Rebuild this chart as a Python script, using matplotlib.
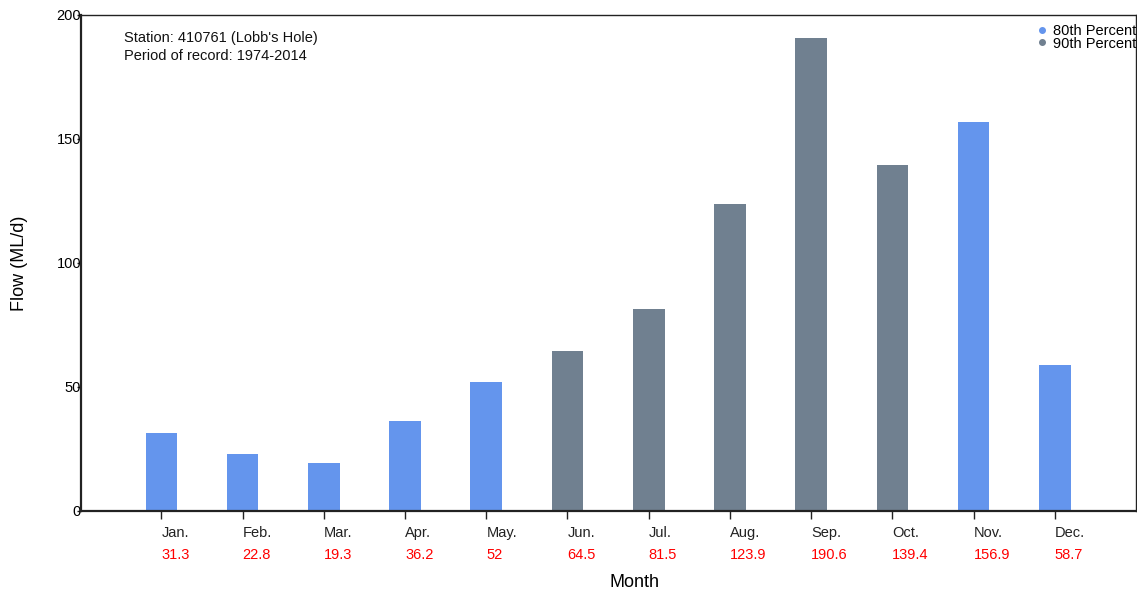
import matplotlib
matplotlib.use("Agg")
import matplotlib.pyplot as plt
from matplotlib.lines import Line2D
import matplotlib.transforms as mtransforms

months = ["Jan.", "Feb.", "Mar.", "Apr.", "May.", "Jun.", "Jul.", "Aug.", "Sep.", "Oct.", "Nov.", "Dec."]
flows = [31.3, 22.8, 19.3, 36.2, 52, 64.5, 81.5, 123.9, 190.6, 139.4, 156.9, 58.7]
value_labels = ["31.3", "22.8", "19.3", "36.2", "52", "64.5", "81.5", "123.9", "190.6", "139.4", "156.9", "58.7"]
percentile = ["80th", "80th", "80th", "80th", "80th", "90th", "90th", "90th", "90th", "90th", "80th", "80th"]
legend_labels = ["80th Percent", "90th Percent"]
yticks = [0, 50, 100, 150, 200]

colors = {"80th": "#6495ED", "90th": "#708090"}

plt.rcParams['font.family'] = ['Liberation Sans', 'DejaVu Sans']

fig = plt.figure(figsize=(11.37, 5.93), dpi=100)
ax = fig.add_axes([81/1137, 82/593, 1055/1137, 496/593])

x = list(range(len(months)))
ax.bar(x, flows, width=0.39, color=[colors[p] for p in percentile])

ax.set_xlim(-0.99, 12.0)
ax.set_ylim(0, 200)
ax.set_yticks(yticks)
ax.set_yticklabels([str(v) for v in yticks], fontsize=10.5)
ax.set_xticks(x)
ax.set_xticklabels([])
ax.tick_params(axis='x', direction='out', length=6, width=1, color='#222222')
ax.tick_params(axis='y', direction='out', length=3, width=1, pad=-3, color='#222222')

for s in ax.spines.values():
    s.set_linewidth(1.0)
    s.set_color('#222222')
ax.spines['left'].set_linewidth(1.6)
ax.spines['bottom'].set_linewidth(1.6)

trans = mtransforms.blended_transform_factory(ax.transData, ax.transAxes)
for xi, m, v in zip(x, months, value_labels):
    ax.text(xi, -0.045, m, transform=trans, ha='left', va='center', fontsize=10.5, color='#222222')
    ax.text(xi, -0.089, v, transform=trans, ha='left', va='center', fontsize=10.5, color='red')

ax.set_xlabel("Month", fontsize=13, labelpad=0)
ax.xaxis.set_label_coords(0.525, -0.128)
ax.set_ylabel("Flow (ML/d)", fontsize=13)
ax.yaxis.set_label_coords(-0.05, 0.5)

ax.text(124/1137, 1 - 38/593, "Station: 410761 (Lobb's Hole)", transform=fig.transFigure,
        ha='left', va='center', fontsize=10.5, color='#111111')
ax.text(124/1137, 1 - 56/593, "Period of record: 1974-2014", transform=fig.transFigure,
        ha='left', va='center', fontsize=10.5, color='#111111')

handles = [Line2D([0], [0], marker='o', linestyle='', markersize=4, color=colors["80th"]),
           Line2D([0], [0], marker='o', linestyle='', markersize=4, color=colors["90th"])]
fig.legend(handles, legend_labels, loc='upper left', bbox_to_anchor=(1038/1137, 1 - 24/593),
           frameon=False, fontsize=10.5, handlelength=0.6, handletextpad=0.4,
           labelspacing=-0.1, borderpad=0, borderaxespad=0)

fig.savefig("out.png", dpi=100)
